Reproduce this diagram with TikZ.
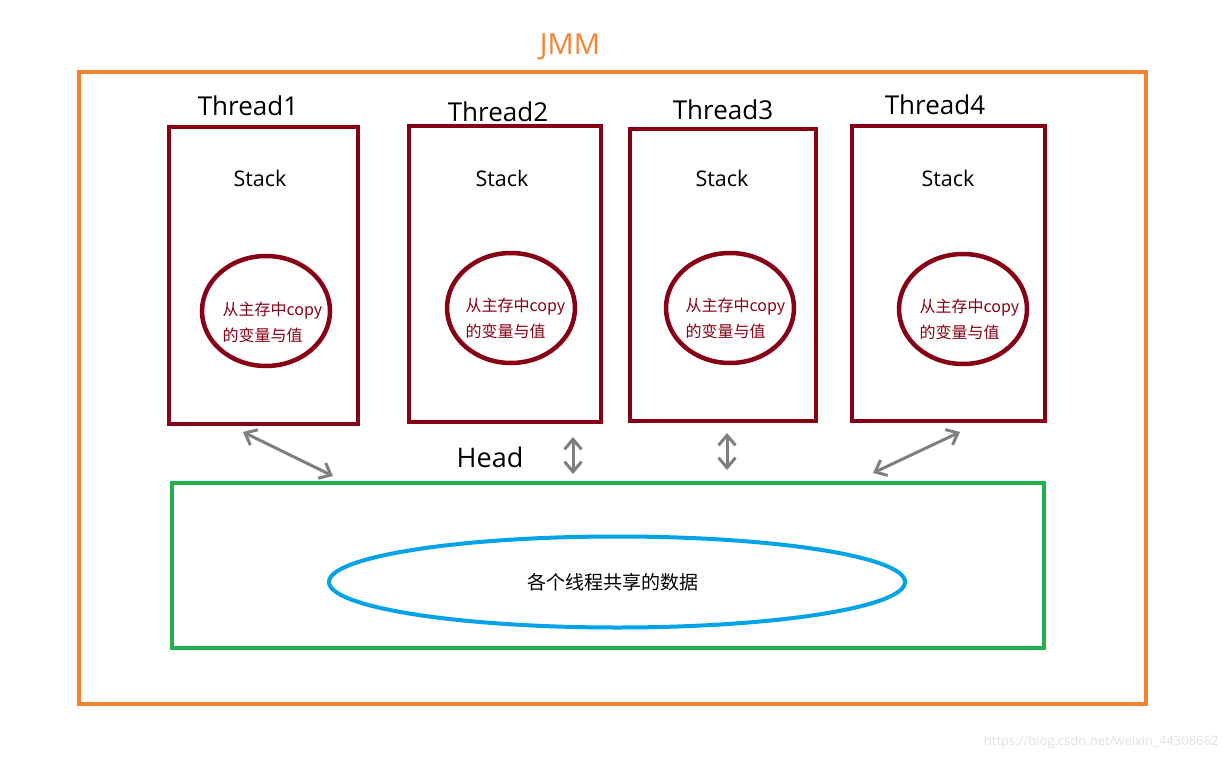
\documentclass[tikz,border=0pt]{standalone}
\usepackage{fontspec}
\setmainfont{Open Sans}
\newfontfamily\cjk{Noto Sans CJK SC}
\usetikzlibrary{shapes.geometric,arrows.meta}
\definecolor{jmmorange}{HTML}{F58231}
\definecolor{darkred}{HTML}{880015}
\definecolor{pgreen}{HTML}{22B14C}
\definecolor{pblue}{HTML}{00A2E8}
\definecolor{pgray}{HTML}{7F7F7F}
\tikzset{
  threadbox/.style={draw=darkred, line width=4pt, minimum width=#1},
  copyell/.style={draw=darkred, line width=4.5pt, ellipse, minimum width=128pt, minimum height=110pt, inner sep=0pt},
  copytxt/.style={text=darkred, font=\cjk\fontsize{16}{26}\selectfont, align=left},
  title/.style={font=\fontsize{26}{30}\selectfont, text=black},
  stacktxt/.style={font=\fontsize{21.5}{24}\selectfont, text=black},
  syncarrow/.style={draw=pgray, line width=3pt, {Straight Barb[length=10pt,width=17pt]}-{Straight Barb[length=10pt,width=17pt]}},
}
\begin{document}
\begin{tikzpicture}[x=1pt,y=-1pt]
\useasboundingbox (0,0) rectangle (1231,760);
% JMM frame
\node[draw=jmmorange, line width=4pt, minimum width=1067pt, minimum height=632pt, inner sep=0pt] (jmm) at (612.5,388) {};
\node[text=jmmorange, font=\fontsize{29}{32}\selectfont] (jmmlabel) at (570,47) {JMM};
% Threads
\node[threadbox=189pt, minimum height=297pt, inner sep=0pt] (t1) at (263.5,275.5) {};
\node[threadbox=192pt, minimum height=296pt, inner sep=0pt] (t2) at (505,274) {};
\node[threadbox=186pt, minimum height=292pt, inner sep=0pt] (t3) at (723,275) {};
\node[threadbox=193pt, minimum height=295pt, inner sep=0pt] (t4) at (948.5,273.5) {};
\node[title] (t1l) at (248,106) {Thread1};
\node[title] (t2l) at (498,112) {Thread2};
\node[title] (t3l) at (723,110) {Thread3};
\node[title] (t4l) at (935,105) {Thread4};
\node[stacktxt] (s1) at (260,178) {Stack};
\node[stacktxt] (s2) at (502,178) {Stack};
\node[stacktxt] (s3) at (722,178) {Stack};
\node[stacktxt] (s4) at (948,178) {Stack};
\node[copyell] (e1) at (266,311) {};
\node[copyell] (e2) at (511,308) {};
\node[copyell] (e3) at (730,308) {};
\node[copyell] (e4) at (963,309) {};
\node[copytxt, anchor=west] (c1) at (219,322) {从主存中copy\\的变量与值};
\node[copytxt, anchor=west] (c2) at (462,318) {从主存中copy\\的变量与值};
\node[copytxt, anchor=west] (c3) at (682,318) {从主存中copy\\的变量与值};
\node[copytxt, anchor=west] (c4) at (916,319) {从主存中copy\\的变量与值};
% Head
\node[font=\fontsize{27}{30}\selectfont] (headl) at (490,457) {Head};
\node[draw=pgreen, line width=4pt, minimum width=872pt, minimum height=165pt, inner sep=0pt] (heap) at (608,565.5) {};
\node[draw=pblue, line width=4pt, ellipse, minimum width=576pt, minimum height=91pt, inner sep=0pt] (shared) at (617,582) {};
\node[font=\cjk\fontsize{19}{22}\selectfont] (sharedl) at (613,582) {各个线程共享的数据};
% arrows
\coordinate (a1s) at (243,432); \coordinate (a1e) at (333,476);
\coordinate (a2s) at (573,437); \coordinate (a2e) at (573,474);
\coordinate (a3s) at (727,433); \coordinate (a3e) at (727,470);
\coordinate (a4s) at (960,432); \coordinate (a4e) at (873,473);
\draw[syncarrow] (a1s) -- (a1e);
\draw[syncarrow] (a2s) -- (a2e);
\draw[syncarrow] (a3s) -- (a3e);
\draw[syncarrow] (a4s) -- (a4e);
% watermark
\node[text=black!12, font=\fontsize{13}{15}\selectfont, anchor=east] (wm) at (1222,742) {https://blog.csdn.net/weixin\_44308662};
\end{tikzpicture}
\end{document}
